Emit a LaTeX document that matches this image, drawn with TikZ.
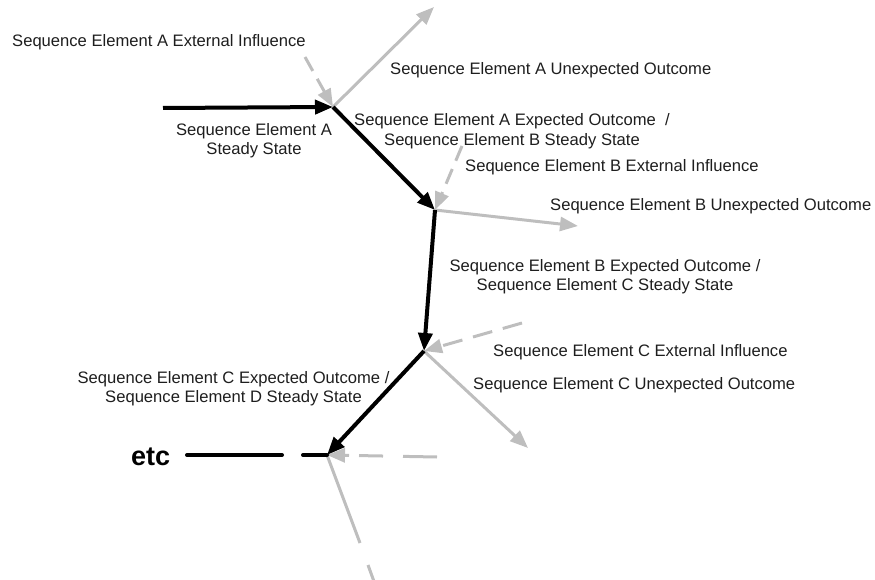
\documentclass[tikz,border=0pt]{standalone}
\usepackage{fontspec}
\setmainfont{Liberation Sans}
\usetikzlibrary{arrows.meta}
\definecolor{grayline}{RGB}{190,190,190}
\definecolor{textgray}{RGB}{30,30,30}
\tikzset{
  flow/.style={line width=4pt, black, -{Triangle[length=18pt,width=14pt]}},
  outc/.style={line width=3pt, grayline, -{Triangle[length=18pt,width=14pt]}},
  infl/.style={outc, dash pattern=on 16pt off 9pt},
  lbl/.style={font=\fontsize{16.6}{19.5}\selectfont, text=textgray, inner sep=0pt},
}
\begin{document}
\begin{tikzpicture}[x=1pt,y=-1pt]
\useasboundingbox (0,0) rectangle (875,580);
% junctions
\coordinate (S) at (163,108);
\coordinate (A) at (333,107);
\coordinate (B) at (435,210);
\coordinate (C) at (424,351);
\coordinate (D) at (327,455);
% free ends
\coordinate (Aext) at (305,57);
\coordinate (Aun) at (434,7);
\coordinate (Bext) at (462,146);
\coordinate (Bun) at (578,226);
\coordinate (Cext) at (522,323);
\coordinate (Cun) at (528,448);
\coordinate (Dext) at (437,457);
\coordinate (Dun1) at (360,543);
\coordinate (Dun2) at (368,565);
\coordinate (Dun3) at (376,587);
\coordinate (E1) at (187,455);
\coordinate (E2) at (282,455);
\coordinate (E3) at (303,455);

% gray influences and outcomes
\draw[infl] (Aext) -- (A);
\draw[outc] (A) -- (Aun);
\draw[infl] (Bext) -- (B);
\draw[outc] (B) -- (Bun);
\draw[infl, dash pattern=on 20pt off 11pt] (Cext) -- (C);
\draw[outc] (C) -- (Cun);
\draw[infl, dash pattern=on 34pt off 20pt on 24pt off 10pt] (Dext) -- (D);
\draw[line width=3pt, grayline] (D) -- (Dun1);
\draw[line width=3pt, grayline] (Dun2) -- (Dun3);

% black flow
\draw[flow] (S) -- (A);
\draw[flow] (A) -- (B);
\draw[flow] (B) -- (C);
\draw[flow] (C) -- (D);
\draw[line width=4pt, line cap=round] (E1) -- (E2);
\draw[line width=4pt, line cap=round] (E3) -- (D);

% labels
\node[lbl, anchor=base west] (lAext) at (12,47) {Sequence Element A External Influence};
\node[lbl, anchor=base west] (lAun) at (390,75) {Sequence Element A Unexpected Outcome};
\node[lbl, anchor=base, align=center] (lAss) at (254,155) {Sequence Element A\\Steady State};
\node[lbl, anchor=base, align=center] (lAexp) at (512,145.5) {Sequence Element A Expected Outcome\ \ /\\Sequence Element B Steady State};
\node[lbl, anchor=base west] (lBext) at (465,172) {Sequence Element B External Influence};
\node[lbl, anchor=base west] (lBun) at (550,211) {Sequence Element B Unexpected Outcome};
\node[lbl, anchor=base, align=center] (lBexp) at (605,290.5) {Sequence Element B Expected Outcome /\\Sequence Element C Steady State};
\node[lbl, anchor=base west] (lCext) at (493,356) {Sequence Element C External Influence};
\node[lbl, anchor=base west] (lCun) at (473,389) {Sequence Element C Unexpected Outcome};
\node[lbl, anchor=base, align=center] (lCexp) at (233.5,402.5) {Sequence Element C Expected Outcome /\\Sequence Element D Steady State};
\node[inner sep=0pt, anchor=base west, font=\fontsize{27}{30}\selectfont\bfseries] (etc) at (131,465) {etc};
\end{tikzpicture}
\end{document}
